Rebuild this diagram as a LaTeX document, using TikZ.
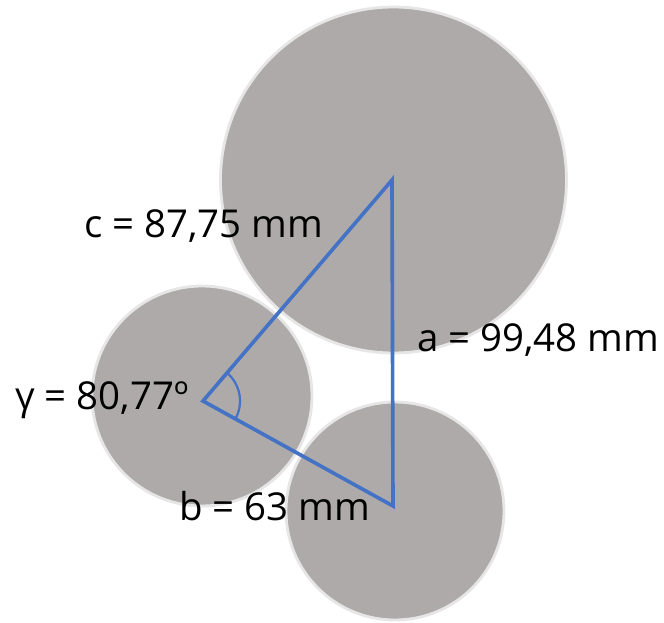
\documentclass[tikz,border=0pt]{standalone}
\usepackage{fontspec}
\setmainfont{Open Sans}
\definecolor{disc}{HTML}{AEAAAA}
\definecolor{rim}{HTML}{E7E6E6}
\definecolor{tri}{HTML}{4472C4}
\begin{document}
\begin{tikzpicture}[x=0.03cm,y=-0.03cm,
  discstyle/.style={fill=disc,draw=rim,line width=2.4pt},
  side/.style={draw=tri,line width=3.1pt,line join=miter},
  lbl/.style={font=\fontsize{32.8pt}{38pt}\selectfont,text=black,inner sep=0pt}]
\useasboundingbox (0,0) rectangle (664,623);
\coordinate (A) at (392,180);
\coordinate (G) at (203,401);
\coordinate (B) at (393,506);
\filldraw[discstyle] (393.5,180) circle (173);
\filldraw[discstyle] (202,396) circle (110);
\filldraw[discstyle] (395,511) circle (109);
\draw[side] (A) -- (G) -- (B) -- cycle;
\draw[draw=tri,line width=1.9pt] ([shift={(-49.5:37)}]G) arc[start angle=-49.5,end angle=28.9,radius=37];
\node[lbl,anchor=base west] (lc) at (84,238) {c = 87,75 mm};
\node[lbl,anchor=base west] (la) at (417,352) {a = 99,48 mm};
\node[lbl,anchor=base west] (lg) at (15,410) {γ = 80,77º};
\node[lbl,anchor=base west] (lb) at (179,520) {b = 63 mm};
\end{tikzpicture}
\end{document}
